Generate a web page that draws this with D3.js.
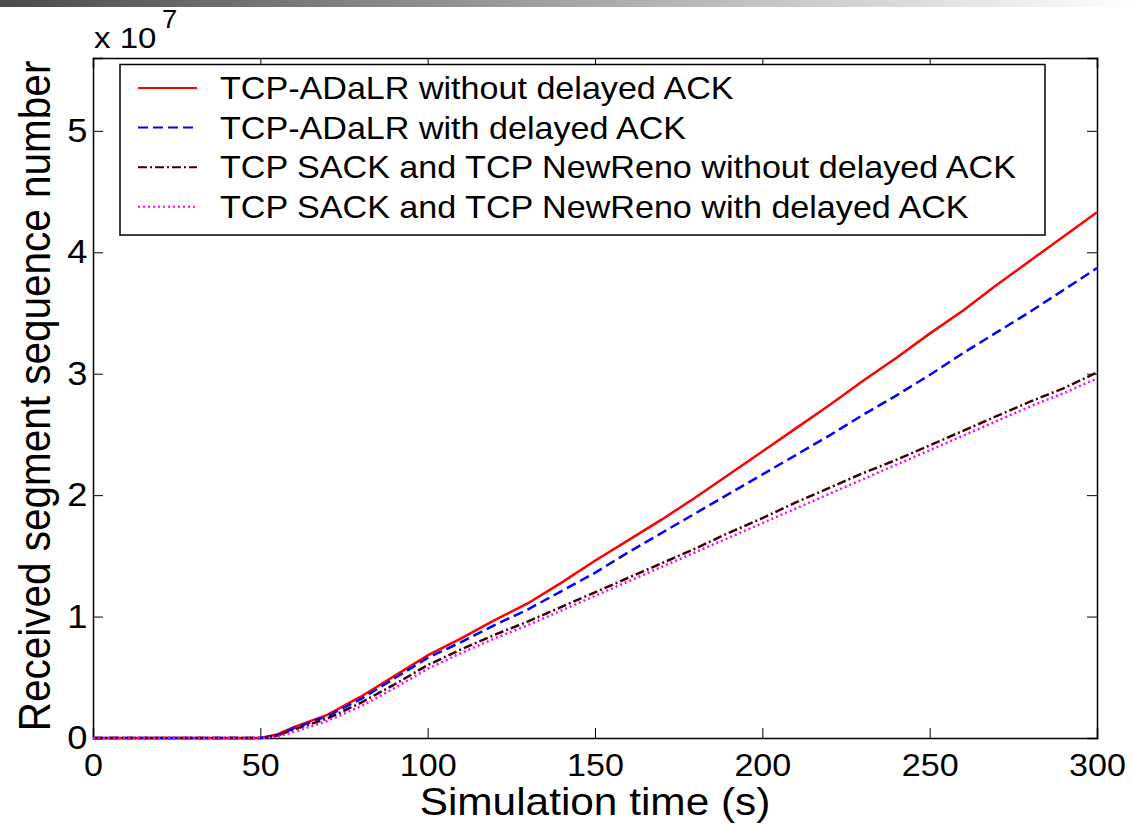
<!DOCTYPE html>
<html>
<head>
<meta charset="utf-8">
<script src="https://cdn.jsdelivr.net/npm/d3@7"></script>
<style>
  body { margin: 0; background: #fff; }
  text { font-family: "Liberation Sans", Arial, sans-serif; fill: #000; }
</style>
</head>
<body>
<div id="chart"></div>
<script>
// simulation time (s)
var times = [0, 10, 20, 30, 40, 50, 55, 60, 70, 80, 90, 100, 110, 120, 130, 140, 150,
             160, 170, 180, 190, 200, 210, 220, 230, 240, 250, 260, 270, 280, 290, 300];

// received segment sequence number, in units of 1e7
var adalrNoDelack = [0, 0, 0, 0, 0, 0, 0.03, 0.09, 0.19, 0.34, 0.51, 0.68, 0.82, 0.97, 1.11, 1.28, 1.46,
                     1.63, 1.80, 1.98, 2.17, 2.36, 2.55, 2.74, 2.94, 3.13, 3.33, 3.52, 3.73, 3.93, 4.13, 4.33];
var adalrDelack   = [0, 0, 0, 0, 0, 0, 0.02, 0.08, 0.18, 0.32, 0.49, 0.66, 0.79, 0.93, 1.06, 1.21, 1.36,
                     1.53, 1.69, 1.85, 2.01, 2.17, 2.33, 2.49, 2.66, 2.82, 2.99, 3.17, 3.34, 3.51, 3.69, 3.87];
var sackNoDelack  = [0, 0, 0, 0, 0, 0, 0.02, 0.07, 0.16, 0.29, 0.44, 0.60, 0.73, 0.85, 0.96, 1.08, 1.20,
                     1.32, 1.44, 1.56, 1.69, 1.81, 1.94, 2.06, 2.18, 2.29, 2.41, 2.53, 2.65, 2.77, 2.88, 3.01];
var sackDelack    = [0, 0, 0, 0, 0, 0, 0.01, 0.05, 0.14, 0.26, 0.41, 0.57, 0.70, 0.82, 0.93, 1.05, 1.17,
                     1.29, 1.41, 1.53, 1.65, 1.77, 1.89, 2.01, 2.13, 2.25, 2.37, 2.49, 2.61, 2.73, 2.84, 2.96];

var seriesNames = ["TCP-ADaLR without delayed ACK",
                   "TCP-ADaLR with delayed ACK",
                   "TCP SACK and TCP NewReno without delayed ACK",
                   "TCP SACK and TCP NewReno with delayed ACK"];
var seriesValues = [adalrNoDelack, adalrDelack, sackNoDelack, sackDelack];
var seriesColors = ["#ff0000", "#0000ff", "#400000", "#ff00ff"];
var seriesDashes = [null, "10,5", "9,3,2,3", "2,3"];

var xTicks = [0, 50, 100, 150, 200, 250, 300];
var yTicks = [0, 1, 2, 3, 4, 5];

// the slide picture is stretched sideways a little
var sx = 1.1;

var margin = {top: 58, right: 35, bottom: 87, left: 93},
    width = 1132 - margin.left - margin.right,
    height = 825 - margin.top - margin.bottom;

var root = d3.select("#chart")
  .append("svg")
    .attr("width", 1132)
    .attr("height", 825);

// grey bar along the top of the slide
var grad = root.append("defs").append("linearGradient")
    .attr("id", "topbar");
grad.append("stop").attr("offset", "0%").attr("stop-color", "#4a4a4a");
grad.append("stop").attr("offset", "100%").attr("stop-color", "#ffffff");
root.append("rect")
    .attr("x", 0).attr("y", 0)
    .attr("width", 1132).attr("height", 7)
    .attr("fill", "url(#topbar)");

var svg = root.append("g")
    .attr("transform", "translate(" + margin.left + "," + margin.top + ")");

var x = d3.scaleLinear().domain([0, 300]).range([0, width]);
var y = d3.scaleLinear().domain([0, 5.6]).range([height, 0]);

// axes, ticks pointing inward on all four sides
svg.append("g")
    .attr("transform", "translate(0," + height + ")")
    .call(d3.axisBottom(x).tickValues(xTicks).tickSize(-10).tickPadding(16))
    .call(function(g) {
      g.selectAll("text")
        .attr("dy", "0.71em")
        .style("font-size", "31px")
        .attr("transform", "scale(" + sx + ",1)");
    });

svg.append("g")
    .call(d3.axisLeft(y).tickValues(yTicks).tickSize(-10).tickPadding(5).tickFormat(d3.format("d")))
    .call(function(g) {
      g.selectAll("text")
        .style("font-size", "33px")
        .attr("transform", "scale(" + sx + ",1)");
    });

svg.append("g")
    .call(d3.axisTop(x).tickValues(xTicks).tickSize(-10).tickFormat(""));
svg.append("g")
    .attr("transform", "translate(" + width + ",0)")
    .call(d3.axisRight(y).tickValues(yTicks).tickSize(-10).tickFormat(""));

svg.selectAll(".domain").attr("stroke", "#000").attr("stroke-width", 1.5);
svg.selectAll(".tick line").attr("stroke", "#000");

// lines
var line = d3.line()
    .x(function(d, i) { return x(times[i]); })
    .y(function(d) { return y(d); });

seriesValues.forEach(function(vals, i) {
  svg.append("path")
    .datum(vals)
    .attr("fill", "none")
    .attr("stroke", seriesColors[i])
    .attr("stroke-width", 2.5)
    .attr("stroke-dasharray", seriesDashes[i])
    .attr("d", line);
});

// exponent label
root.append("text")
    .attr("transform", "translate(94,48) scale(" + sx + ",1)")
    .style("font-size", "30px")
    .text("x 10");
root.append("text")
    .attr("transform", "translate(162,28) scale(" + sx + ",1)")
    .style("font-size", "25px")
    .text("7");

// axis titles
root.append("text")
    .attr("transform", "translate(595,815) scale(" + sx + ",1)")
    .attr("text-anchor", "middle")
    .style("font-size", "38.5px")
    .text("Simulation time (s)");

root.append("text")
    .attr("transform", "translate(50,396) scale(" + sx + ",1) rotate(-90)")
    .attr("text-anchor", "middle")
    .style("font-size", "40.5px")
    .text("Received segment sequence number");

// legend
var legend = root.append("g");
legend.append("rect")
    .attr("x", 120).attr("y", 64.5)
    .attr("width", 925).attr("height", 170.5)
    .attr("fill", "#fff")
    .attr("stroke", "#000")
    .attr("stroke-width", 1.5);

seriesNames.forEach(function(name, i) {
  var base = 99 + i * 39.6;
  legend.append("line")
    .attr("x1", 138).attr("x2", 197)
    .attr("y1", base - 11).attr("y2", base - 11)
    .attr("stroke", seriesColors[i])
    .attr("stroke-width", 2)
    .attr("stroke-dasharray", seriesDashes[i]);
  legend.append("text")
    .attr("transform", "translate(220," + base + ") scale(" + sx + ",1)")
    .style("font-size", "31px")
    .text(name);
});
</script>
</body>
</html>
